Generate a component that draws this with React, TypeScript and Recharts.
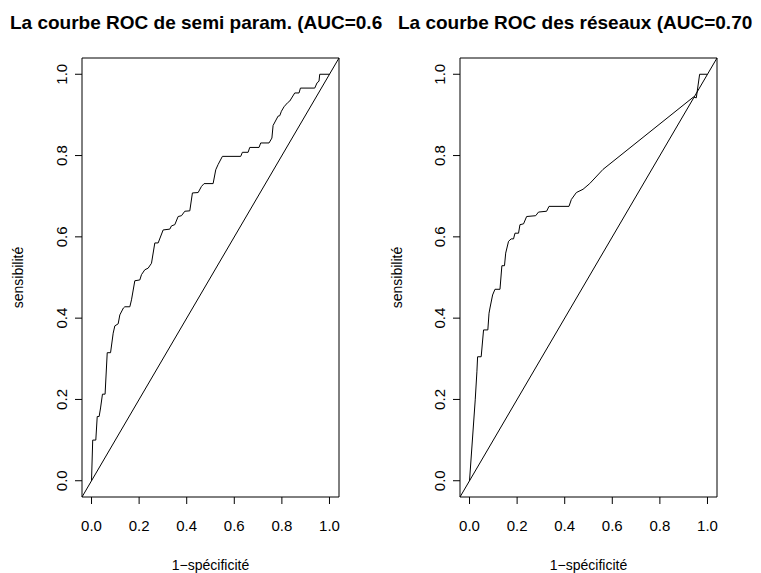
import React from 'react';
import { LineChart, Line, XAxis, YAxis, ReferenceLine, ReferenceArea, Label } from 'recharts';

// courbe ROC semi-paramétrique (1-spécificité, sensibilité)
const semiFpr = [0, 0.005, 0.018, 0.024, 0.032, 0.038, 0.046, 0.057, 0.066, 0.08, 0.091, 0.098, 0.112, 0.119, 0.134, 0.14, 0.161, 0.168, 0.182, 0.203, 0.21, 0.224, 0.238, 0.252, 0.266, 0.28, 0.301, 0.329, 0.336, 0.35, 0.364, 0.378, 0.392, 0.413, 0.424, 0.448, 0.462, 0.473, 0.511, 0.522, 0.532, 0.55, 0.627, 0.634, 0.658, 0.665, 0.704, 0.711, 0.746, 0.758, 0.763, 0.784, 0.791, 0.798, 0.809, 0.824, 0.833, 0.854, 0.872, 0.878, 0.938, 0.948, 0.956, 0.959, 1];
const semiTpr = [0, 0.1, 0.1, 0.158, 0.158, 0.179, 0.213, 0.213, 0.315, 0.315, 0.363, 0.381, 0.386, 0.408, 0.425, 0.428, 0.428, 0.445, 0.492, 0.494, 0.507, 0.519, 0.523, 0.535, 0.585, 0.585, 0.617, 0.619, 0.627, 0.63, 0.65, 0.652, 0.663, 0.664, 0.708, 0.709, 0.724, 0.731, 0.731, 0.765, 0.778, 0.798, 0.798, 0.808, 0.808, 0.82, 0.82, 0.831, 0.831, 0.843, 0.874, 0.897, 0.898, 0.909, 0.92, 0.93, 0.934, 0.954, 0.954, 0.966, 0.966, 0.979, 0.983, 1, 1];

// courbe ROC des réseaux de neurones
const netFpr = [0, 0.024, 0.031, 0.034, 0.049, 0.059, 0.077, 0.082, 0.086, 0.097, 0.107, 0.128, 0.136, 0.147, 0.152, 0.164, 0.175, 0.185, 0.191, 0.206, 0.212, 0.227, 0.24, 0.278, 0.29, 0.324, 0.334, 0.418, 0.428, 0.449, 0.477, 0.505, 0.561, 0.941, 0.953, 0.967, 0.999];
const netTpr = [0, 0.199, 0.268, 0.305, 0.305, 0.371, 0.371, 0.412, 0.425, 0.457, 0.471, 0.471, 0.529, 0.529, 0.56, 0.589, 0.595, 0.595, 0.609, 0.609, 0.63, 0.632, 0.65, 0.652, 0.661, 0.663, 0.675, 0.675, 0.692, 0.709, 0.717, 0.731, 0.766, 0.944, 0.942, 1, 1];

const axisTicks = [0, 0.2, 0.4, 0.6, 0.8, 1];
const titles = ['La courbe ROC de semi param. (AUC=0.6', 'La courbe ROC des réseaux (AUC=0.70'];
const xLabel = '1−spécificité';
const yLabel = 'sensibilité';

const FONT = '"Liberation Sans", Arial, Helvetica, sans-serif';
const DOMAIN: [number, number] = [-0.04, 1.04];

const toPoints = (xs: number[], ys: number[]) => xs.map((x, i) => ({ x, y: ys[i] }));

const XTick = ({ x, y, payload }: any) => (
  <text x={x} y={y + 21} textAnchor="middle" dominantBaseline="central" fontSize={15} fontFamily={FONT} fill="#000">
    {Number(payload.value).toFixed(1)}
  </text>
);

const YTick = ({ x, y, payload }: any) => (
  <text
    x={x - 13}
    y={y}
    transform={`rotate(-90 ${x - 13} ${y})`}
    textAnchor="middle"
    dominantBaseline="central"
    fontSize={15}
    fontFamily={FONT}
    fill="#000"
  >
    {Number(payload.value).toFixed(1)}
  </text>
);

interface PanelProps {
  data: { x: number; y: number }[];
  left: number;
  width: number;
  yAxisWidth: number;
  rightMargin: number;
  title: string;
  titleLeft: number;
  yLabelX: number;
}

function RocPanel({ data, left, width, yAxisWidth, rightMargin, title, titleLeft, yLabelX }: PanelProps) {
  return (
    <div style={{ position: 'absolute', left, top: 0, width, height: 573 }}>
      <div
        style={{
          position: 'absolute',
          left: titleLeft,
          top: 12,
          whiteSpace: 'nowrap',
          fontFamily: FONT,
          fontWeight: 'bold',
          fontSize: 19,
          lineHeight: '22px',
        }}
      >
        {title}
      </div>
      <LineChart width={width} height={573} margin={{ top: 58, right: rightMargin, bottom: 0, left: 0 }}>
        <XAxis
          type="number"
          dataKey="x"
          domain={DOMAIN}
          allowDataOverflow
          ticks={axisTicks}
          tickSize={7}
          tickMargin={0}
          height={76}
          tick={<XTick />}
          stroke="#000"
          axisLine={false}
        >
          <Label
            content={({ viewBox }: any) => (
              <text
                x={viewBox.x + viewBox.width / 2}
                y={565}
                textAnchor="middle"
                dominantBaseline="central"
                fontSize={14}
                fontFamily={FONT}
                fill="#000"
              >
                {xLabel}
              </text>
            )}
          />
        </XAxis>
        <YAxis
          type="number"
          dataKey="y"
          domain={DOMAIN}
          allowDataOverflow
          ticks={axisTicks}
          tickSize={7}
          tickMargin={0}
          width={yAxisWidth}
          tick={<YTick />}
          stroke="#000"
          axisLine={false}
        >
          <Label
            content={({ viewBox }: any) => (
              <text
                x={yLabelX}
                y={viewBox.y + viewBox.height / 2}
                transform={`rotate(-90 ${yLabelX} ${viewBox.y + viewBox.height / 2})`}
                textAnchor="middle"
                dominantBaseline="central"
                fontSize={14}
                fontFamily={FONT}
                fill="#000"
              >
                {yLabel}
              </text>
            )}
          />
        </YAxis>
        <ReferenceArea x1={-0.04} x2={1.04} y1={-0.04} y2={1.04} fill="none" stroke="#000" strokeWidth={1} ifOverflow="visible" />
        <ReferenceLine segment={[{ x: -0.04, y: -0.04 }, { x: 1.04, y: 1.04 }]} stroke="#000" strokeWidth={1} ifOverflow="visible" />
        <Line data={data} dataKey="y" type="linear" stroke="#000" strokeWidth={1} dot={false} isAnimationActive={false} />
      </LineChart>
    </div>
  );
}

export default function App() {
  return (
    <div style={{ position: 'absolute', left: 0, top: 0, width: 761, height: 573, overflow: 'hidden', background: '#fff' }}>
      <RocPanel
        data={toPoints(semiFpr, semiTpr)}
        left={0}
        width={380}
        yAxisWidth={82}
        rightMargin={41}
        title={titles[0]}
        titleLeft={10}
        yLabelX={18}
      />
      <RocPanel
        data={toPoints(netFpr, netTpr)}
        left={380}
        width={381}
        yAxisWidth={80}
        rightMargin={44}
        title={titles[1]}
        titleLeft={18}
        yLabelX={17}
      />
    </div>
  );
}
